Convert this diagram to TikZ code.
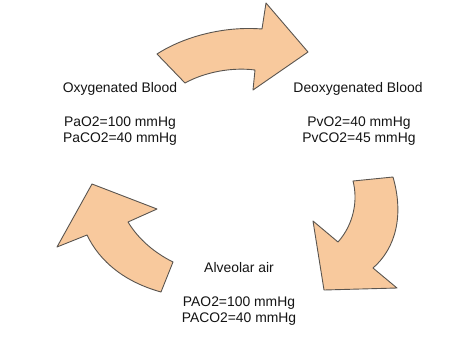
\documentclass[tikz,border=0pt]{standalone}
\usepackage{fontspec}
\setmainfont{Liberation Sans}
\definecolor{peach}{HTML}{F8C99D}
\definecolor{edge}{HTML}{5A5550}
\definecolor{txt}{HTML}{141414}
\begin{document}
\begin{tikzpicture}[x=1pt,y=-1pt,
  arrowshape/.style={fill=peach,draw=edge,line width=0.9pt,line join=round},
  lbl/.style={font=\fontsize{13.9}{15.8}\selectfont,text=txt,anchor=base,inner sep=0pt}]
\useasboundingbox[fill=white] (0,0) rectangle (474,346);
% top arrow
\path[arrowshape] (157,54) .. controls (185,36) and (225,26) .. (262,29)
  -- (266,3) -- (308,52) -- (253,90) -- (255,70)
  .. controls (232,67) and (205,72) .. (185,83) -- cycle;
% right arrow
\path[arrowshape] (353,181) -- (393,177)
  .. controls (404,215) and (396,248) .. (373,268)
  -- (397,288) -- (324,290) -- (313,221) -- (338,242)
  .. controls (354,224) and (358,200) .. cycle;
% left arrow
\path[arrowshape] (92,184) -- (157,209) -- (128,222)
  .. controls (139,240) and (155,253) .. (173,262)
  -- (161,292)
  .. controls (125,282) and (100,262) .. (87,235)
  -- (57,247) -- cycle;
% labels
\node[lbl] (oxy) at (120,92.7) {Oxygenated Blood};
\node[lbl] (oxy1) at (120,126.5) {PaO2=100 mmHg};
\node[lbl] (oxy2) at (120,142.3) {PaCO2=40 mmHg};
\node[lbl] (deoxy) at (358,92.7) {Deoxygenated Blood};
\node[lbl] (deoxy1) at (359,126.5) {PvO2=40 mmHg};
\node[lbl] (deoxy2) at (359,142.3) {PvCO2=45 mmHg};
\node[lbl] (alv) at (239,272.3) {Alveolar air};
\node[lbl] (alv1) at (239,306.2) {PAO2=100 mmHg};
\node[lbl] (alv2) at (239,322) {PACO2=40 mmHg};
\end{tikzpicture}
\end{document}
